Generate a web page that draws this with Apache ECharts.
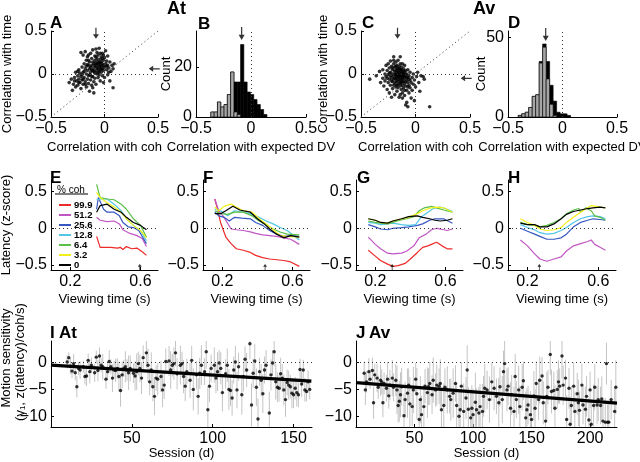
<!DOCTYPE html>
<html><head><meta charset="utf-8">
<script src="https://cdn.jsdelivr.net/npm/echarts@6/dist/echarts.min.js"></script>
<style>html,body{margin:0;padding:0;background:#fff}#c{width:640px;height:462px}</style>
</head><body><div id="c"></div>
<script>
// ---------------- DATA ----------------
// A: At, correlation with coh (x) vs correlation with time (y)
const scatterA = [[-0.33,-0.10],[-0.30,-0.19],[-0.31,-0.06],[-0.29,-0.12],[-0.28,-0.04],[-0.27,-0.15],[-0.27,0.02],[-0.26,-0.08],[-0.25,-0.02],[-0.25,-0.13],[-0.24,0.05],[-0.24,-0.06],[-0.23,-0.10],[-0.23,0.01],[-0.22,0.25],[-0.22,-0.03],[-0.22,-0.17],[-0.21,0.08],[-0.21,-0.07],[-0.20,0.02],[-0.20,0.22],[-0.20,-0.12],[-0.19,-0.04],[-0.19,0.12],[-0.18,0.06],[-0.18,-0.09],[-0.18,0.26],[-0.17,0.00],[-0.17,-0.15],[-0.17,0.16],[-0.16,0.04],[-0.16,-0.06],[-0.16,0.20],[-0.15,0.10],[-0.15,-0.02],[-0.15,-0.11],[-0.14,0.14],[-0.14,0.06],[-0.14,-0.20],[-0.13,0.02],[-0.13,0.24],[-0.13,-0.07],[-0.12,0.10],[-0.12,-0.13],[-0.12,0.18],[-0.11,0.04],[-0.11,-0.03],[-0.11,0.28],[-0.10,0.12],[-0.10,-0.09],[-0.10,0.07],[-0.10,-0.22],[-0.09,0.01],[-0.09,0.16],[-0.09,0.21],[-0.09,-0.05],[-0.08,0.09],[-0.08,0.13],[-0.08,-0.12],[-0.08,0.04],[-0.07,0.18],[-0.07,0.25],[-0.07,0.00],[-0.07,0.07],[-0.06,0.11],[-0.06,0.15],[-0.06,-0.04],[-0.06,0.22],[-0.05,0.08],[-0.05,0.13],[-0.05,0.03],[-0.05,0.30],[-0.04,0.17],[-0.04,0.10],[-0.04,-0.08],[-0.04,0.05],[-0.03,0.14],[-0.03,0.20],[-0.03,0.02],[-0.03,0.09],[-0.02,0.12],[-0.02,0.06],[-0.02,0.24],[-0.02,-0.02],[-0.01,0.16],[-0.01,0.10],[-0.01,0.04],[0.00,0.08],[0.00,0.19],[0.00,-0.04],[0.01,0.12],[0.01,0.27],[0.02,0.05],[0.02,0.15],[0.03,0.10],[0.03,-0.01],[0.04,0.07],[0.05,0.14],[0.06,0.03],[0.07,0.10],[0.08,0.06],[0.09,0.12],[0.08,-0.16],[0.05,-0.08],[-0.01,-0.10],[-0.12,-0.03],[-0.16,0.11],[-0.19,0.03],[-0.21,-0.01],[-0.13,0.08],[-0.06,0.02],[-0.09,0.10],[-0.11,0.14],[-0.04,0.13],[-0.07,0.12],[-0.03,0.06],[0.02,0.09],[-0.14,-0.01],[-0.17,0.09],[-0.10,0.03],[-0.05,-0.01],[-0.08,0.20],[-0.12,0.05],[-0.15,0.16],[-0.02,0.18],[0.03,0.21],[-0.20,-0.06],[-0.24,-0.10],[-0.18,-0.12],[-0.11,-0.16],[-0.06,0.06],[0.04,0.02],[-0.01,0.22],[-0.04,0.24],[-0.08,0.29],[-0.15,0.22],[-0.25,0.03],[-0.28,-0.08]];
const meanA = [-0.08, 0.06];   // arrows: mean x, mean y

// C: Av
const scatterC = [[-0.42,-0.06],[-0.36,-0.02],[-0.33,0.03],[-0.32,-0.10],[-0.30,-0.05],[-0.30,0.05],[-0.29,-0.14],[-0.28,0.00],[-0.28,-0.08],[-0.27,0.10],[-0.27,-0.03],[-0.26,-0.18],[-0.26,0.04],[-0.25,-0.10],[-0.25,0.12],[-0.25,-0.01],[-0.24,0.07],[-0.24,-0.06],[-0.24,-0.22],[-0.23,0.02],[-0.23,-0.13],[-0.23,0.15],[-0.22,-0.04],[-0.22,0.09],[-0.22,-0.27],[-0.21,0.00],[-0.21,-0.09],[-0.21,0.05],[-0.21,-0.17],[-0.20,0.12],[-0.20,-0.02],[-0.20,-0.06],[-0.20,0.20],[-0.19,0.03],[-0.19,-0.11],[-0.19,-0.24],[-0.19,0.08],[-0.18,-0.01],[-0.18,-0.05],[-0.18,0.14],[-0.18,-0.15],[-0.18,0.04],[-0.17,-0.08],[-0.17,0.01],[-0.17,0.10],[-0.17,-0.20],[-0.17,-0.03],[-0.16,0.06],[-0.16,-0.12],[-0.16,-0.02],[-0.16,0.16],[-0.16,-0.06],[-0.15,0.02],[-0.15,-0.09],[-0.15,0.09],[-0.15,-0.27],[-0.15,-0.04],[-0.14,0.05],[-0.14,-0.14],[-0.14,0.00],[-0.14,-0.07],[-0.14,0.20],[-0.13,-0.02],[-0.13,0.08],[-0.13,-0.10],[-0.13,-0.18],[-0.13,0.03],[-0.12,-0.05],[-0.12,0.12],[-0.12,-0.13],[-0.12,0.01],[-0.12,-0.22],[-0.11,-0.03],[-0.11,0.06],[-0.11,-0.08],[-0.11,-0.16],[-0.10,0.02],[-0.10,-0.11],[-0.10,0.10],[-0.10,-0.05],[-0.10,-0.25],[-0.09,-0.01],[-0.09,-0.14],[-0.09,0.04],[-0.09,-0.36],[-0.08,-0.07],[-0.08,0.00],[-0.08,-0.19],[-0.08,-0.33],[-0.07,-0.04],[-0.07,-0.10],[-0.07,0.05],[-0.07,-0.38],[-0.06,-0.13],[-0.06,-0.02],[-0.06,-0.22],[-0.05,-0.07],[-0.05,0.02],[-0.05,-0.16],[-0.04,-0.10],[-0.04,-0.28],[-0.03,-0.04],[-0.03,-0.19],[-0.02,-0.12],[-0.02,0.00],[-0.01,-0.07],[-0.01,-0.31],[0.00,-0.15],[0.01,-0.03],[0.02,0.02],[0.03,-0.10],[0.04,-0.20],[0.05,-0.02],[0.07,-0.03],[0.08,-0.06],[0.13,-0.38],[-0.19,-0.05],[-0.17,0.06],[-0.16,0.03],[-0.15,-0.01],[-0.14,-0.03],[-0.13,-0.06],[-0.12,-0.02],[-0.11,0.00],[-0.10,-0.02],[-0.18,-0.09],[-0.20,-0.13],[-0.22,-0.08],[-0.16,-0.16],[-0.14,-0.11],[-0.12,-0.09],[-0.09,-0.09],[-0.08,-0.04],[-0.07,-0.15],[-0.06,-0.06],[-0.11,0.03],[-0.13,0.05],[-0.15,0.06],[-0.17,-0.01],[-0.19,0.00],[-0.23,-0.02],[-0.26,-0.05],[-0.24,0.01],[-0.21,0.07],[-0.18,0.09],[-0.20,0.16],[-0.14,0.12],[-0.12,-0.28],[-0.10,-0.19],[-0.14,-0.24],[-0.17,-0.13]];
const meanC = [-0.165, -0.05];

// B: histogram At (bin centres, total count, grey subset)
const binW = 0.03;
const binsB  = [-0.35,-0.32,-0.29,-0.26,-0.23,-0.20,-0.17,-0.14,-0.11,-0.08,-0.05,-0.02,0.01,0.04,0.07,0.10,0.13];
const totalB = [2,2,6,4,5,9,18,14,14,29,14,10,9,7,5,3,1];
const greyB  = [2,2,6,4,5,9,18,2,1,0,0,0,0,0,0,0,0];
const meanB  = -0.085;
// D: histogram Av
const binWD = 0.032;
const binsD  = [-0.390,-0.358,-0.326,-0.294,-0.262,-0.230,-0.198,-0.166,-0.134,-0.102,-0.070,-0.038,-0.006,0.026,0.058];
const totalD = [1,2,3,6,13,14,35,46,35,20,10,3,2,2,1];
const greyD  = [1,2,3,6,13,14,34,44,24,8,1,0,0,0,0];
const meanD  = -0.154;

// E-H: latency (z-score) vs viewing time per coherence
const cohLabels = ['99.9','51.2','25.6','12.8','6.4','3.2','0'];
const cohColors = ['#ee2a2a','#c157c4','#3657c0','#52c6e6','#5cbf45','#f2f01a','#000000'];
const E_lines = {
 '99.9':[[0.35,-0.11],[0.37,-0.26],[0.43,-0.26],[0.47,-0.27],[0.485,-0.26],[0.50,-0.29],[0.52,-0.25],[0.55,-0.28],[0.58,-0.27],[0.61,-0.32],[0.634,-0.37]],
 '51.2':[[0.35,0.15],[0.37,0.11],[0.41,0.09],[0.45,0.10],[0.48,0.06],[0.50,-0.02],[0.54,-0.07],[0.58,-0.10],[0.61,-0.14],[0.634,-0.25]],
 '25.6':[[0.35,0.26],[0.36,0.42],[0.39,0.26],[0.41,0.22],[0.45,0.22],[0.48,0.17],[0.50,0.08],[0.53,0.02],[0.56,0.01],[0.59,-0.03],[0.634,-0.21]],
 '12.8':[[0.35,0.39],[0.38,0.40],[0.41,0.40],[0.45,0.33],[0.49,0.24],[0.52,0.13],[0.56,0.04],[0.60,-0.03],[0.634,-0.17]],
 '6.4': [[0.35,0.60],[0.37,0.42],[0.41,0.40],[0.45,0.39],[0.49,0.33],[0.52,0.26],[0.56,0.13],[0.60,0.04],[0.634,-0.12]],
 '3.2': [[0.35,0.49],[0.37,0.42],[0.41,0.35],[0.45,0.29],[0.49,0.22],[0.52,0.13],[0.56,0.04],[0.60,-0.03],[0.634,-0.13]],
 '0':   [[0.35,0.22],[0.37,0.31],[0.41,0.33],[0.45,0.26],[0.49,0.22],[0.52,0.15],[0.56,0.08],[0.60,0.04],[0.634,-0.02]]
};
const F_lines = {
 '99.9':[[0.157,0.40],[0.17,0.29],[0.19,0.08],[0.22,-0.12],[0.25,-0.21],[0.28,-0.28],[0.32,-0.30],[0.36,-0.33],[0.39,-0.37],[0.43,-0.40],[0.47,-0.42],[0.51,-0.43],[0.55,-0.44],[0.59,-0.46],[0.639,-0.52]],
 '51.2':[[0.157,0.40],[0.18,0.24],[0.21,0.15],[0.25,-0.01],[0.28,-0.02],[0.32,-0.03],[0.36,-0.05],[0.39,-0.07],[0.43,-0.09],[0.47,-0.10],[0.51,-0.11],[0.55,-0.13],[0.59,-0.15],[0.639,-0.22]],
 '25.6':[[0.157,0.22],[0.18,0.17],[0.21,0.15],[0.24,0.10],[0.27,0.15],[0.31,0.14],[0.36,0.13],[0.39,0.08],[0.43,0.04],[0.47,-0.03],[0.51,-0.08],[0.55,-0.11],[0.59,-0.10],[0.639,-0.11]],
 '12.8':[[0.157,0.26],[0.19,0.24],[0.23,0.17],[0.27,0.24],[0.32,0.22],[0.36,0.20],[0.41,0.15],[0.45,0.10],[0.49,0.06],[0.53,0.01],[0.57,-0.03],[0.639,-0.16]],
 '6.4': [[0.157,0.24],[0.19,0.20],[0.23,0.19],[0.27,0.22],[0.32,0.22],[0.37,0.17],[0.41,0.10],[0.45,0.05],[0.49,-0.01],[0.53,-0.05],[0.57,-0.08],[0.639,-0.09]],
 '3.2': [[0.157,0.29],[0.18,0.24],[0.21,0.30],[0.25,0.33],[0.28,0.29],[0.32,0.24],[0.37,0.22],[0.41,0.13],[0.45,0.06],[0.49,-0.02],[0.53,-0.10],[0.57,-0.11],[0.639,-0.12]],
 '0':   [[0.157,0.20],[0.19,0.20],[0.22,0.24],[0.26,0.30],[0.30,0.25],[0.36,0.22],[0.40,0.13],[0.44,0.06],[0.47,-0.01],[0.51,-0.08],[0.55,-0.13],[0.59,-0.10],[0.639,-0.12]]
};
const G_lines = {
 '99.9':[[0.16,-0.30],[0.20,-0.38],[0.23,-0.44],[0.27,-0.49],[0.30,-0.52],[0.33,-0.51],[0.37,-0.48],[0.40,-0.42],[0.44,-0.33],[0.47,-0.26],[0.50,-0.24],[0.52,-0.22],[0.55,-0.19],[0.58,-0.24],[0.61,-0.28],[0.64,-0.28]],
 '51.2':[[0.16,-0.12],[0.20,-0.22],[0.23,-0.28],[0.27,-0.34],[0.30,-0.35],[0.35,-0.34],[0.38,-0.31],[0.42,-0.24],[0.45,-0.13],[0.49,-0.08],[0.52,-0.02],[0.55,0.00],[0.59,-0.02],[0.61,-0.03],[0.64,-0.01]],
 '25.6':[[0.16,0.05],[0.20,0.02],[0.23,-0.01],[0.27,-0.02],[0.30,0.00],[0.35,0.01],[0.39,0.02],[0.44,0.04],[0.47,0.06],[0.51,0.11],[0.54,0.13],[0.59,0.13],[0.64,0.07]],
 '12.8':[[0.16,0.08],[0.20,0.07],[0.23,0.05],[0.27,0.06],[0.30,0.07],[0.35,0.05],[0.39,0.04],[0.43,0.05],[0.46,0.15],[0.50,0.22],[0.53,0.27],[0.57,0.29],[0.60,0.27],[0.64,0.23]],
 '6.4': [[0.16,0.10],[0.20,0.08],[0.23,0.07],[0.27,0.06],[0.30,0.08],[0.34,0.11],[0.38,0.13],[0.42,0.16],[0.45,0.24],[0.48,0.28],[0.52,0.30],[0.55,0.28],[0.59,0.25],[0.64,0.22]],
 '3.2': [[0.16,0.13],[0.20,0.11],[0.23,0.08],[0.27,0.07],[0.30,0.10],[0.35,0.13],[0.39,0.15],[0.44,0.20],[0.47,0.24],[0.52,0.28],[0.55,0.29],[0.59,0.28],[0.64,0.22]],
 '0':   [[0.16,0.13],[0.20,0.11],[0.23,0.08],[0.27,0.07],[0.30,0.10],[0.35,0.13],[0.39,0.16],[0.44,0.17],[0.47,0.15],[0.51,0.13],[0.54,0.11],[0.57,0.10],[0.61,0.11],[0.64,0.13]]
};
const H_lines = {
 '51.2':[[0.16,-0.16],[0.20,-0.24],[0.24,-0.35],[0.27,-0.42],[0.31,-0.45],[0.35,-0.42],[0.39,-0.39],[0.42,-0.31],[0.46,-0.24],[0.50,-0.21],[0.54,-0.18],[0.56,-0.16],[0.58,-0.22],[0.61,-0.26],[0.64,-0.30]],
 '25.6':[[0.16,0.00],[0.20,-0.04],[0.24,-0.08],[0.27,-0.11],[0.31,-0.15],[0.35,-0.15],[0.39,-0.13],[0.42,-0.08],[0.46,0.02],[0.50,0.08],[0.54,0.11],[0.57,0.13],[0.61,0.12],[0.64,0.11]],
 '12.8':[[0.16,0.05],[0.20,0.01],[0.24,-0.02],[0.27,-0.06],[0.31,-0.08],[0.35,-0.07],[0.39,-0.03],[0.42,0.01],[0.46,0.08],[0.50,0.13],[0.54,0.16],[0.57,0.17],[0.61,0.16],[0.64,0.13]],
 '6.4': [[0.16,0.08],[0.20,0.05],[0.24,0.04],[0.27,0.02],[0.31,0.04],[0.35,0.08],[0.39,0.13],[0.42,0.20],[0.46,0.25],[0.49,0.27],[0.50,0.22],[0.53,0.28],[0.56,0.24],[0.58,0.17],[0.61,0.15],[0.64,0.11]],
 '3.2': [[0.16,0.13],[0.20,0.08],[0.24,0.04],[0.27,-0.01],[0.31,-0.03],[0.35,-0.02],[0.39,0.01],[0.42,0.08],[0.46,0.15],[0.50,0.22],[0.54,0.28],[0.56,0.31],[0.59,0.30],[0.64,0.28]],
 '0':   [[0.16,0.07],[0.20,0.05],[0.24,0.05],[0.27,0.02],[0.31,0.02],[0.35,0.06],[0.39,0.13],[0.42,0.19],[0.46,0.23],[0.50,0.25],[0.54,0.27],[0.57,0.28],[0.61,0.29],[0.64,0.28]]
};
const arrowsEH = [0.596, 0.444, 0.296, 0.267];   // time marker per panel

// I / J: motion sensitivity per session [session, value, error]
const sessI = [[10,0.1,1.2],[11,0.9,1.0],[12,-0.7,1.5],[13,-1.6,1.3],[14,-0.2,1.8],[15,-1.9,1.4],[16,-4.5,2.0],[17,-1.1,1.2],[18,-1.4,1.6],[20,-0.8,1.1],[21,-2.6,1.5],[22,-2.5,1.9],[23,0.4,1.3],[24,-1.7,2.2],[25,-0.5,1.4],[27,-1.9,1.7],[28,1.0,1.2],[29,-1.5,2.0],[30,1.2,1.6],[31,-0.5,1.3],[32,-0.8,2.4],[34,-3.1,1.8],[35,-1.7,1.5],[36,0.2,2.1],[37,-0.8,1.4],[38,-2.9,2.6],[39,-1.4,1.7],[40,-1.5,2.2],[41,-1.1,1.9],[42,-2.6,2.8],[43,-5.2,3.0],[44,-2.3,2.5],[45,-1.1,1.6],[46,-0.8,2.9],[47,-1.4,2.0],[48,-1.9,3.2],[49,-1.1,2.4],[51,-2.0,1.8],[52,-2.5,2.7],[53,-1.7,3.4],[54,-0.2,2.2],[55,-1.1,2.6],[56,-2.9,3.0],[57,0.9,2.3],[59,1.8,2.8],[60,-0.5,3.1],[61,-3.6,2.5],[62,-1.4,3.3],[63,-4.5,2.7],[64,-6.3,3.5],[65,-2.9,2.4],[66,-3.1,3.0],[68,-2.6,2.9],[69,-5.1,3.2],[70,-4.2,2.6],[71,0.2,2.4],[73,0.3,2.8],[74,-1.4,3.5],[75,-0.5,2.1],[76,-0.2,3.0],[77,1.8,2.5],[78,-2.1,2.9],[80,-0.5,3.6],[81,-0.2,2.2],[82,-2.6,3.1],[83,-4.4,2.8],[84,-1.7,2.4],[86,-3.3,3.3],[87,0.4,2.7],[88,-5.0,3.9],[90,-2.3,2.6],[91,-6.3,3.4],[92,-2.0,2.9],[93,-0.5,3.7],[95,-1.7,2.5],[96,2.0,3.2],[97,-8.8,4.2],[98,-4.4,3.0],[99,-1.1,2.6],[101,-0.5,3.3],[102,-2.9,2.8],[103,-1.7,3.6],[104,-0.1,2.4],[105,-1.1,3.0],[106,-5.6,3.5],[108,-2.1,2.7],[109,-0.5,3.1],[110,-5.0,3.8],[111,-5.2,2.9],[112,-6.6,3.3],[113,-1.4,2.5],[114,0.1,3.0],[115,-5.1,3.4],[116,-0.8,2.6],[118,-6.0,3.7],[119,-2.6,2.8],[120,0.6,2.4],[121,-1.4,3.2],[123,3.5,2.9],[124,-7.9,4.0],[125,-2.0,2.7],[126,0.3,3.1],[127,-4.6,3.5],[128,-10.5,3.8],[129,-1.7,2.6],[130,-3.3,3.0],[131,-5.8,3.6],[132,-1.4,2.5],[133,-0.5,2.8],[135,-9.4,4.0],[136,-2.3,2.9],[137,-0.1,2.4],[138,2.0,2.7],[139,-3.6,3.3],[140,-4.6,2.8],[141,-4.8,2.5],[142,-2.1,3.0],[143,-2.9,2.6],[144,-5.1,2.9],[145,-6.9,3.2],[146,-3.7,2.4],[147,-4.2,2.7],[148,-4.5,2.2],[149,-5.7,2.8],[150,-6.0,2.5],[151,-4.8,2.1],[152,-5.6,2.6],[153,-6.0,2.3],[154,-1.3,2.0],[155,-4.0,2.4],[156,-1.4,1.9],[157,-5.1,2.2],[158,-5.4,1.8],[159,-3.6,2.1],[160,-5.0,1.9]];
const fitI = [[0,-0.5],[161,-3.45]];
const sessJ = [[7,-2.0,2.2],[8,-5.1,2.8],[9,-3.6,2.0],[11,-1.7,2.5],[12,-3.1,1.8],[14,-1.5,2.4],[15,-7.5,3.0],[16,-2.3,2.1],[18,-2.9,2.6],[19,-4.6,2.2],[21,-3.3,2.9],[22,-3.6,2.3],[23,-7.5,2.7],[24,-3.9,2.0],[26,-4.8,2.5],[27,-3.1,3.2],[28,-6.2,2.4],[29,-4.2,2.8],[31,-2.9,3.4],[32,-4.6,2.6],[34,-3.3,3.0],[35,-5.1,4.5],[36,-8.0,3.2],[37,-7.2,3.8],[38,-6.0,4.2],[39,-4.5,3.5],[41,-9.9,4.0],[42,-6.9,3.3],[44,-5.7,4.6],[45,-4.2,3.1],[46,-7.7,5.0],[48,-8.2,3.6],[49,-5.1,4.3],[51,-3.1,3.0],[52,-5.8,4.8],[54,-10.6,3.9],[55,-6.9,4.4],[56,-9.7,3.5],[58,-8.2,4.1],[59,-4.4,3.2],[61,-5.6,4.7],[62,-4.5,3.4],[63,-3.9,4.0],[65,-6.0,3.6],[66,-3.3,4.2],[68,-5.1,3.1],[69,-4.2,3.8],[71,-4.4,3.3],[72,-3.9,4.5],[73,-8.8,3.7],[75,-8.0,4.1],[76,-4.6,3.5],[78,-5.1,4.4],[80,-6.3,3.2],[81,-6.9,3.9],[83,-5.7,4.6],[85,-3.9,3.4],[86,-8.0,4.2],[88,-10.0,5.0],[89,-8.8,3.8],[90,-4.4,4.4],[92,-9.1,5.2],[94,-6.6,3.9],[95,-1.4,4.6],[96,-8.7,4.1],[98,-10.3,5.3],[99,-8.5,4.3],[100,-9.7,4.8],[102,-7.4,5.5],[103,-8.8,4.0],[105,-9.4,4.9],[106,-8.2,4.2],[108,-9.1,5.1],[109,-6.3,3.8],[110,-4.8,4.5],[112,-5.1,3.6],[114,-6.9,4.3],[116,-3.6,3.5],[118,-4.8,4.1],[120,-6.3,3.3],[122,-7.5,4.7],[123,-4.5,3.6],[125,-6.9,4.4],[126,-1.7,3.9],[127,-0.2,5.5],[129,-5.1,4.0],[130,-4.4,3.5],[132,-8.5,4.8],[133,-6.0,3.7],[135,-9.1,4.6],[136,-2.6,4.2],[137,-6.9,3.4],[139,-5.1,4.5],[140,-8.2,3.8],[142,-4.6,4.3],[143,-3.4,3.6],[145,-10.3,4.9],[146,-8.8,4.0],[147,-7.9,3.6],[149,-9.7,4.4],[150,-10.6,3.9],[152,-6.2,4.6],[153,-8.5,3.5],[154,-3.9,4.1],[156,-6.9,3.8],[157,-3.3,4.4],[159,-2.5,3.5],[160,-7.5,4.0],[162,-10.9,3.7],[163,-6.3,4.5],[164,-4.6,3.2],[166,1.5,3.8],[167,-5.4,4.1],[169,-5.2,3.5],[170,-8.5,4.3],[172,-5.0,3.6],[173,-3.6,4.0],[174,-4.4,3.3],[176,1.2,4.2],[177,-4.2,3.7],[179,-2.9,3.4],[180,-10.6,4.5],[182,-4.8,3.8],[183,-11.5,4.1],[184,-8.0,3.6],[186,-4.4,4.4],[187,-9.1,3.7],[189,-5.8,3.9],[190,-7.5,4.3],[191,-8.9,3.5],[193,-4.2,4.0],[194,-7.9,3.6],[196,-8.7,4.2],[197,-6.3,3.8],[199,-10.7,4.1],[200,-5.1,3.4],[201,-11.5,4.6],[203,-8.0,3.9],[204,-4.6,4.3],[206,-7.9,3.6],[207,-6.9,4.0],[209,-8.0,3.5],[210,-6.8,4.2],[211,-10.9,3.8],[213,-11.1,4.5],[214,-0.2,3.9],[215,-11.1,3.4],[216,-11.1,4.0],[218,-6.9,3.7],[221,-9.1,4.4],[222,-4.6,5.0]];
const fitJ = [[0,-3.75],[223,-7.55]];

// tick labels
const ticksCorr = [-0.5, 0, 0.5];
const ticksCountB = [0, 20];
const ticksCountD = [0, 50];
const ticksTime = [0.2, 0.6];
const ticksLat = [-0.5, 0, 0.5];
const ticksSessI = [50, 100, 150];
const ticksSessJ = [50, 100, 150, 200];
const ticksSens = [-10, -5, 0];

// ---------------- CHART ----------------
const FONT = 'Liberation Sans, Arial, sans-serif';
const fmt = v => String(v).replace('-', '\u2212');
const chart = echarts.init(document.getElementById('c'), null, {renderer: 'canvas'});

const grids = [
  {left: 51, top: 31, width: 107, height: 86},   // A 0
  {left: 196, top: 31, width: 110, height: 86},  // B 1
  {left: 361, top: 31, width: 109, height: 86},  // C 2
  {left: 508, top: 31, width: 109, height: 86},  // D 3
  {left: 51, top: 180, width: 107, height: 90},  // E 4
  {left: 203, top: 180, width: 107, height: 90}, // F 5
  {left: 356, top: 180, width: 107, height: 90}, // G 6
  {left: 508, top: 180, width: 108, height: 90}, // H 7
  {left: 51, top: 341, width: 261, height: 86},  // I 8
  {left: 356, top: 341, width: 261, height: 86}  // J 9
].map(g => Object.assign({containLabel: false, outerBoundsMode: 'none'}, g));

function axis(dim, gi, min, max, ticks, name, nameGap, extra) {
  const a = {
    type: 'value', gridIndex: gi, min, max, scale: true,
    axisLine: {show: true, onZero: false, lineStyle: {color: '#000', width: 1}},
    axisTick: {show: true, inside: true, length: 3, customValues: ticks, lineStyle: {color: '#000'}},
    axisLabel: {customValues: ticks, formatter: fmt, color: '#000', fontSize: 16, fontFamily: FONT, margin: 4},
    splitLine: {show: false},
    name: name || '', nameLocation: 'middle', nameGap: nameGap || 20, nameMoveOverlap: false,
    nameTextStyle: {color: '#000', fontSize: 13, fontFamily: FONT}
  };
  if (dim === 'y') a.nameRotate = 90;
  return Object.assign(a, extra || {});
}

const xAxes = [
  axis('x', 0, -0.5, 0.5, ticksCorr, 'Correlation with coh', 24),
  axis('x', 1, -0.5, 0.5, ticksCorr, 'Correlation with expected DV', 24),
  axis('x', 2, -0.5, 0.5, ticksCorr, 'Correlation with coh', 24),
  axis('x', 3, -0.5, 0.5, ticksCorr, 'Correlation with expected DV', 24),
  axis('x', 4, 0.09, 0.70, ticksTime, 'Viewing time (s)', 23),
  axis('x', 5, 0.09, 0.70, ticksTime, 'Viewing time (s)', 23),
  axis('x', 6, 0.09, 0.70, ticksTime, 'Viewing time (s)', 23),
  axis('x', 7, 0.09, 0.70, ticksTime, 'Viewing time (s)', 23),
  axis('x', 8, 0, 161.4, ticksSessI, 'Session (d)', 20),
  axis('x', 9, 0, 223, ticksSessJ, 'Session (d)', 20)
];
const yAxes = [
  axis('y', 0, -0.5, 0.5, ticksCorr, 'Correlation with time', 37),
  axis('y', 1, 0, 34.4, ticksCountB, 'Count', 23),
  axis('y', 2, -0.5, 0.5, ticksCorr, 'Correlation with time', 31),
  axis('y', 3, 0, 54.2, ticksCountD, 'Count', 20),
  axis('y', 4, -0.57, 0.66, ticksLat, 'Latency (z-score)', 38),
  axis('y', 5, -0.57, 0.66, ticksLat, '', 20),
  axis('y', 6, -0.57, 0.66, ticksLat, '', 20),
  axis('y', 7, -0.57, 0.66, ticksLat, '', 20),
  axis('y', 8, -12, 4, ticksSens, '', 20),
  axis('y', 9, -12, 4, ticksSens, '', 20)
];

const dotted = {type: [1, 3], color: '#333', width: 1};
function refLines(list) {
  return {silent: true, symbol: 'none', label: {show: false}, lineStyle: dotted, animation: false, data: list};
}
const arrowPath = 'path://M4,0 L6,0 L6,12 L10,12 L5,20 L0,12 L4,12 Z';
function arrow(gi, pt, size, rot) {
  return {type: 'scatter', xAxisIndex: gi, yAxisIndex: gi, clip: false, silent: true, z: 5,
    symbol: arrowPath, symbolSize: size, symbolRotate: rot || 0,
    itemStyle: {color: '#000'}, data: [pt]};
}
function histSeries(gi, centers, counts, w, fill) {
  return {type: 'custom', xAxisIndex: gi, yAxisIndex: gi, silent: true,
    data: centers.map((c, i) => [c - w / 2, c + w / 2, counts[i]]),
    encode: {x: [0, 1], y: 2},
    renderItem: (params, api) => {
      const c = api.value(2);
      if (!c) return null;
      const p0 = api.coord([api.value(0), c]);
      const p1 = api.coord([api.value(1), 0]);
      return {type: 'rect', shape: {x: p0[0], y: p0[1], width: p1[0] - p0[0], height: p1[1] - p0[1]},
        style: {fill: fill, stroke: '#000', lineWidth: 0.6}};
    }};
}
function errSeries(gi, rows) {
  return {type: 'custom', xAxisIndex: gi, yAxisIndex: gi, silent: true, clip: true,
    data: rows, encode: {x: 0, y: 1},
    renderItem: (params, api) => {
      const x = api.value(0), y = api.value(1), e = api.value(2);
      const lo = Math.max(y - e, -12), hi = Math.min(y + e, 4);
      const p1 = api.coord([x, lo]), p2 = api.coord([x, hi]);
      return {type: 'line', shape: {x1: p1[0], y1: p1[1], x2: p2[0], y2: p2[1]},
        style: {stroke: '#c4c4c4', lineWidth: 1}};
    }};
}

const series = [];
// A & C scatter with reference lines
[[0, scatterA, meanA], [2, scatterC, meanC]].forEach(([gi, pts, mean]) => {
  series.push({type: 'scatter', xAxisIndex: gi, yAxisIndex: gi, symbolSize: 3.6, silent: true,
    itemStyle: {color: '#000'}, data: pts,
    markLine: refLines([{yAxis: 0}, {xAxis: 0}, [{coord: [-0.5, -0.5]}, {coord: [0.5, 0.5]}]])});
  series.push(arrow(gi, [mean[0], 0.475], [6, 11]));
  series.push(arrow(gi, [0.465, mean[1]], [6, 11], -90));
});
// B & D histograms
[[1, binsB, totalB, greyB, binW, meanB, 33.4, [6, 13]], [3, binsD, totalD, greyD, binWD, meanD, 52, [6, 13]]]
.forEach(([gi, bins, tot, grey, w, mean, ay, asz]) => {
  const s = histSeries(gi, bins, tot, w, '#000');
  s.markLine = refLines([{xAxis: 0}]);
  series.push(s);
  series.push(histSeries(gi, bins, grey, w, '#a6a6a6'));
  series.push(arrow(gi, [mean, ay], asz));
});
// E-H latency curves
[E_lines, F_lines, G_lines, H_lines].forEach((panel, k) => {
  const gi = 4 + k;
  cohLabels.forEach((lab, ci) => {
    if (!panel[lab]) return;
    series.push({type: 'line', name: lab, xAxisIndex: gi, yAxisIndex: gi, showSymbol: false, silent: true,
      data: panel[lab], lineStyle: {color: cohColors[ci], width: 1.2}, itemStyle: {color: cohColors[ci]}, z: 3 + ci / 10});
  });
  series.push({type: 'line', xAxisIndex: gi, yAxisIndex: gi, showSymbol: false, silent: true, data: [],
    markLine: refLines([{yAxis: 0}])});
  series.push(arrow(gi, [arrowsEH[k], -0.535], [4, 7], 180));
});
// I & J
[[8, sessI, fitI], [9, sessJ, fitJ]].forEach(([gi, rows, fit]) => {
  series.push(errSeries(gi, rows));
  series.push({type: 'scatter', xAxisIndex: gi, yAxisIndex: gi, symbolSize: 3.4, silent: true, z: 4,
    itemStyle: {color: '#000'}, data: rows.map(r => [r[0], r[1]]),
    markLine: refLines([{yAxis: 0}])});
  series.push({type: 'line', xAxisIndex: gi, yAxisIndex: gi, showSymbol: false, silent: true, z: 6,
    data: fit, lineStyle: {color: '#000', width: 3.2}});
});

const bold = (txt, x, y, size) => ({type: 'text', left: x, top: y, silent: true,
  style: {text: txt, fill: '#000', font: 'bold ' + (size || 17) + 'px ' + FONT}});
const vText = (txt, x, y) => ({type: 'text', x: x, y: y, rotation: Math.PI / 2, silent: true,
  style: {text: txt, fill: '#000', font: '13px ' + FONT, align: 'center', verticalAlign: 'middle'}});

chart.setOption({
  animation: false,
  backgroundColor: '#fff',
  grid: grids, xAxis: xAxes, yAxis: yAxes, series: series,
  legend: {show: true, orient: 'vertical', left: 54, top: 195, selectedMode: false,
    data: cohLabels, icon: 'rect', itemWidth: 12, itemHeight: 2, itemGap: 0,
    textStyle: {fontSize: 9.5, fontWeight: 'bold', fontFamily: FONT, color: '#000', lineHeight: 8.3, padding: [0, 0, 0, -2]}},
  graphic: [
    bold('A', 50, 15), bold('B', 198, 16), bold('C', 362, 15), bold('D', 508, 15),
    bold('At', 167, 0, 18), bold('Av', 473, 0, 18),
    bold('E', 50, 170), bold('F', 203, 170), bold('G', 357, 170), bold('H', 508, 170),
    bold('I', 50, 325), bold('At', 59, 325), bold('J', 356, 325), bold('Av', 369, 325),
    vText('Motion sensitivity', 6, 358),
    vText('(\u03b3\u2081, z(latency)/coh/s)', 20, 362),
    {type: 'text', left: 57, top: 185, silent: true, style: {text: '% coh', fill: '#000', font: '10px ' + FONT}},
    {type: 'line', silent: true, shape: {x1: 55, y1: 194, x2: 88, y2: 194}, style: {stroke: '#000', lineWidth: 1}}
  ]
});
</script></body></html>
